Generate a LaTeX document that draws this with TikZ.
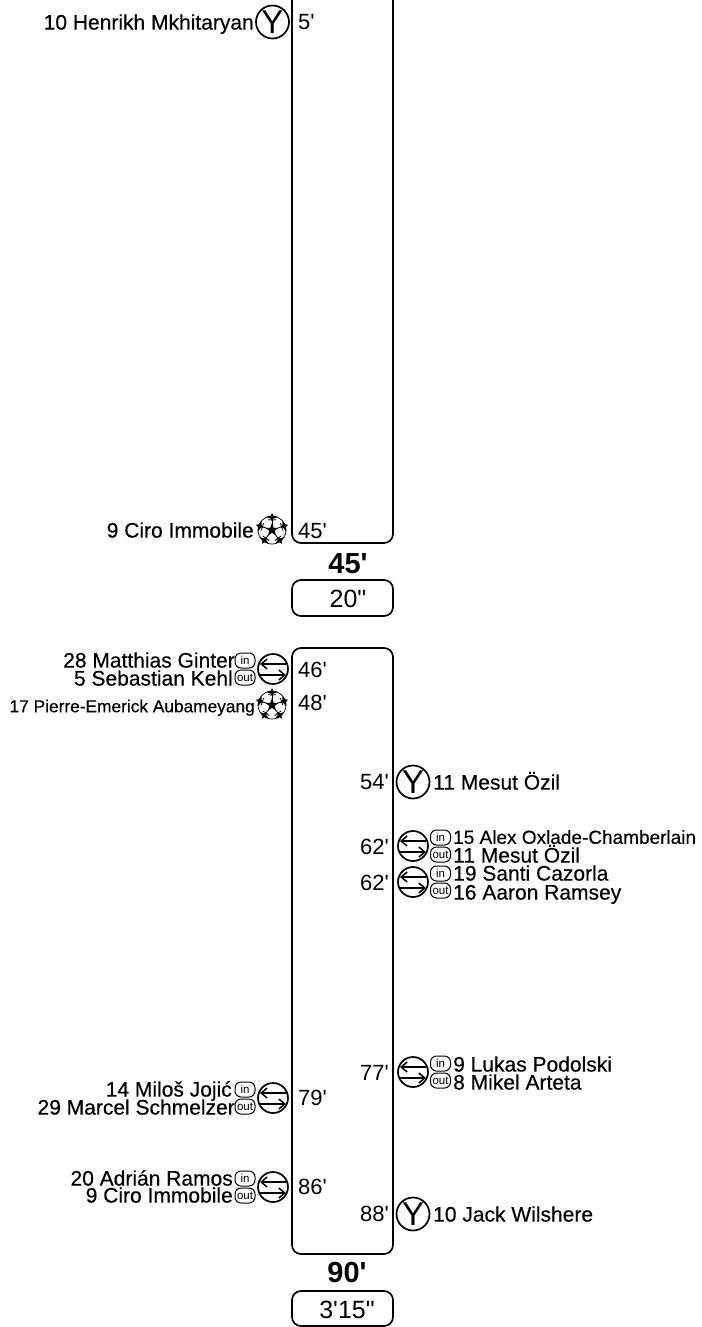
\documentclass[tikz,border=0pt]{standalone}
\usepackage{fontspec}
\setmainfont[Ligatures=TeXOff]{Liberation Sans}
\newfontfamily\namefont[Ligatures=TeXOff,FakeBold=0.35]{Liberation Sans}
\usetikzlibrary{arrows,arrows.meta,positioning,calc}

\tikzset{
    frame/.style={draw,line width=1.7pt,rounded corners=9pt},
    label text/.style={inner sep=0pt,text height=.72*#1 pt,text depth=0pt,font=\fontsize{#1}{#1}\selectfont},
    name text/.style={inner sep=0pt,text height=.72*#1 pt,text depth=0pt,font=\namefont\fontsize{#1}{#1}\selectfont},
    player/.style={name text=21},
    smallplayer/.style={name text=19},
    tinyplayer/.style={name text=17.3},
    minute/.style={label text=22},
    total/.style={inner sep=0pt,text height=20.9pt,text depth=0pt,font=\fontsize{29}{29}\selectfont\bfseries},
    extra/.style={label text=25},
    pill/.style={draw,line width=1pt,rounded corners=6pt,minimum width=20pt,minimum height=15pt,inner sep=0pt,font=\fontsize{11.5}{11.5}\selectfont},
    pics/card/.style={code={
        \node[circle,draw,line width=1.7pt,minimum size=33pt,inner sep=0pt,font=\fontsize{33}{33}\selectfont] (-y) at (0,0) {Y};
    }},
    pics/subst/.style={code={
        \draw[line width=1.7pt] (0,0) circle (15pt);
        \draw[line width=1.5pt,-{Straight Barb[length=6pt,width=10pt]}] (13,-5) -- (-13,-5);
        \draw[line width=1.5pt,-{Straight Barb[length=6pt,width=10pt]}] (-13,6) -- (13,6);
        \node[pill] (-in) at (#1,-8.5) {in};
        \node[pill] (-out) at (#1,8.5) {out};
    }},
    pics/ball/.style={code={
        \draw[line width=.7pt] (0,0) circle (14pt);
        \fill (54:7) -- (18:2.8) -- (-18:7) -- (-54:2.8) -- (-90:7) -- (-126:2.8) -- (-162:7) -- (162:2.8) -- (126:7) -- (90:2.8) -- cycle;
        \foreach \a in {90,18,-54,-126,162} {
            \draw[line width=.8pt] (\a+36:5) -- (\a+36:10);
            \fill[rotate=\a] (17,0) -- (14,1.5) -- (13,6) -- (11.5,1.5) -- (9,0) -- (11.5,-1.5) -- (13,-6) -- (14,-1.5) -- cycle;
            \draw[line width=.8pt] (\a+36:10) -- (\a+15:11);
            \draw[line width=.8pt] (\a+36:10) -- (\a+57:11);
        }
    }},
}

\begin{document}
\begin{tikzpicture}[x=1pt,y=-1pt]
    \useasboundingbox (0,0) rectangle (701,1327);

    %%% First half
    \begin{scope}
        % Boxes
        \coordinate (halfTopL) at (292,0);
        \coordinate (halfTopR) at (393,0);
        \draw[frame] (halfTopL) -- (292,543) -- (393,543) -- (halfTopR);
        \node[total] (total1) at (348,563) {45'};
        \node[frame,minimum width=101pt,minimum height=36pt,inner sep=0pt] (extra1) at (342.5,598) {};
        \node[extra] (extraText1) at (348,598) {20"};

        % Events
        \node[player,anchor=east] (henrikh) at (254,22) {10 Henrikh Mkhitaryan};
        \pic (card1) at (272.5,22) {card};
        \node[minute,anchor=west] (min5) at (298,22) {5'};

        \node[player,anchor=east] (ciro1) at (254,530) {9 Ciro Immobile};
        \pic (ball1) at (272,530) {ball};
        \node[minute,anchor=west] (min45) at (298,531) {45'};
    \end{scope}

    %%% Second half
    \begin{scope}
        % Boxes
        \node[frame,minimum width=101pt,minimum height=606pt,inner sep=0pt] (half2) at (342.5,951) {};
        \node[total] (total2) at (347,1272) {90'};
        \node[frame,minimum width=101pt,minimum height=35pt,inner sep=0pt] (extra2) at (342.5,1308.5) {};
        \node[extra] (extraText2) at (347,1309) {3'15"};

        % Left side
        \node[player,anchor=east] (ginter) at (235,660) {28 Matthias Ginter};
        \node[player,anchor=east] (kehl) at (233,678) {5 Sebastian Kehl};
        \pic (subst1) at (273,669) {subst=-28};
        \node[minute,anchor=west] (min46) at (298,670) {46'};

        \node[tinyplayer,anchor=east] (aubameyang) at (255,706) {17 Pierre-Emerick Aubameyang};
        \pic (ball2) at (272,705) {ball};
        \node[minute,anchor=west] (min48) at (298,703) {48'};

        \node[player,anchor=east] (jojic) at (232,1089) {14 Miloš Jojić};
        \node[player,anchor=east] (schmelzer) at (235,1107) {29 Marcel Schmelzer};
        \pic (subst2) at (273,1098) {subst=-28};
        \node[minute,anchor=west] (min79) at (298,1098) {79'};

        \node[player,anchor=east] (ramos) at (233,1178) {20 Adrián Ramos};
        \node[player,anchor=east] (ciro2) at (233,1195) {9 Ciro Immobile};
        \pic (subst3) at (273,1187) {subst=-28};
        \node[minute,anchor=west] (min86) at (298,1187) {86'};

        % Right side
        \node[minute,anchor=east] (min54) at (389,782) {54'};
        \pic (card2) at (413,782) {card};
        \node[player,anchor=west] (ozil1) at (433,782) {11 Mesut Özil};

        \node[minute,anchor=east] (min62a) at (389,847) {62'};
        \pic (subst4) at (413,846) {subst=27.5};
        \node[smallplayer,anchor=west] (oxlade) at (453,837) {15 Alex Oxlade-Chamberlain};
        \node[player,anchor=west] (ozil2) at (453,855) {11 Mesut Özil};

        \node[minute,anchor=east] (min62b) at (389,883) {62'};
        \pic (subst5) at (413,882) {subst=27.5};
        \node[player,anchor=west] (cazorla) at (453,873) {19 Santi Cazorla};
        \node[player,anchor=west] (ramsey) at (453,892) {16 Aaron Ramsey};

        \node[minute,anchor=east] (min77) at (389,1073) {77'};
        \pic (subst6) at (413,1072) {subst=27.5};
        \node[player,anchor=west] (podolski) at (453,1064) {9 Lukas Podolski};
        \node[player,anchor=west] (arteta) at (453,1082) {8 Mikel Arteta};

        \node[minute,anchor=east] (min88) at (389,1214) {88'};
        \pic (card3) at (413,1214) {card};
        \node[player,anchor=west] (wilshere) at (433,1214) {10 Jack Wilshere};
    \end{scope}
\end{tikzpicture}
\end{document}
